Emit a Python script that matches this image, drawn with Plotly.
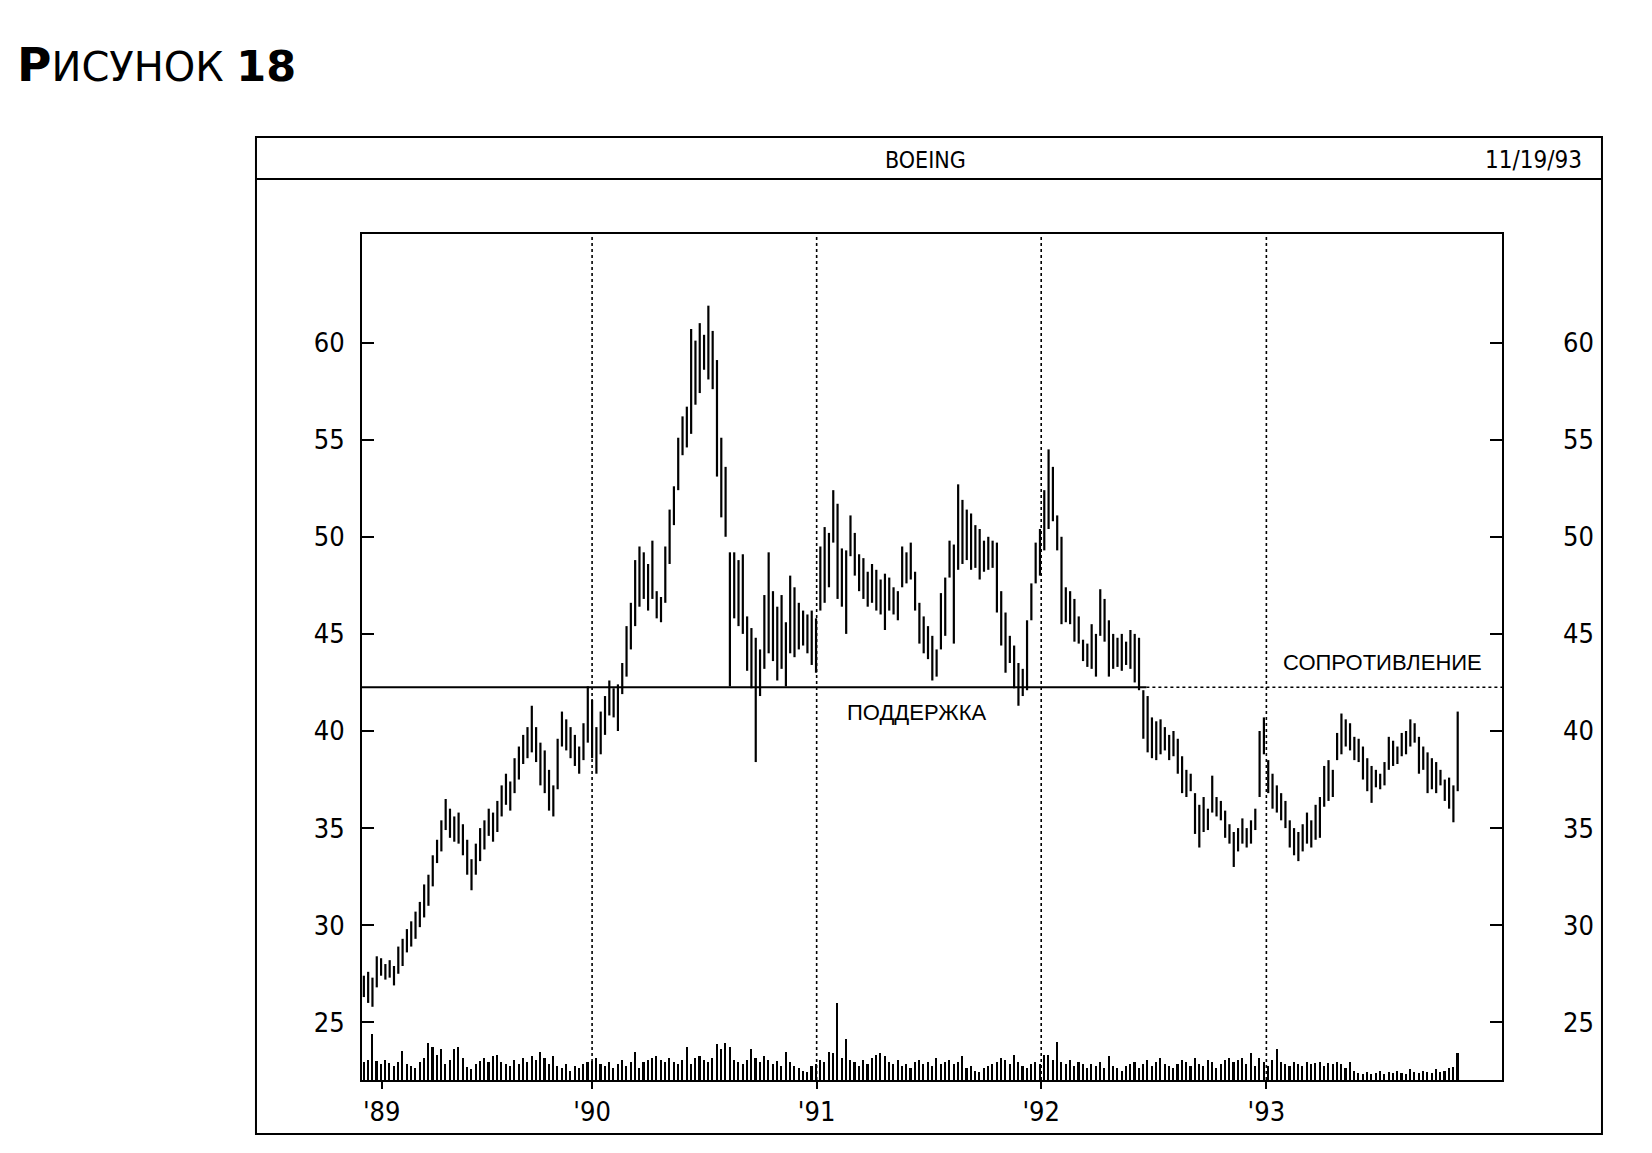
import plotly.graph_objects as go
import pandas as pd

# ---------------- data (weekly bars, week of Monday) ----------------
first_week = "1988-12-26"

highs_1989 = [27.4, 27.6, 27.3, 28.4, 28.3, 28.0, 28.2, 27.9, 28.9, 29.3, 29.8, 30.2, 30.7,
              31.2, 32.1, 32.6, 33.6, 34.4, 35.4, 36.5, 36.0, 35.6, 35.8, 35.2, 34.4, 33.4,
              34.2, 35.0, 35.4, 36.0, 35.8, 36.4, 37.2, 37.8, 37.4, 38.6, 39.2, 39.8, 40.2,
              41.3, 40.2, 39.4, 39.0, 38.0, 37.2, 39.6, 41.0, 40.6, 40.2, 39.8, 39.2, 40.4]
lows_1989 = [26.3, 26.0, 25.8, 26.8, 27.4, 27.2, 27.3, 26.9, 27.5, 27.9, 28.6, 28.9, 29.3,
             29.9, 30.4, 31.0, 32.0, 33.2, 33.8, 34.9, 34.5, 34.3, 34.2, 33.6, 32.6, 31.8,
             32.6, 33.3, 33.9, 34.6, 34.3, 34.8, 35.6, 36.2, 35.9, 36.8, 37.5, 38.3, 38.6,
             38.9, 38.4, 37.2, 36.8, 35.9, 35.6, 37.0, 39.2, 39.0, 38.6, 38.2, 37.8, 38.5]

highs_1990 = [42.3, 41.6, 40.2, 41.0, 41.8, 42.6, 42.2, 42.4, 43.5, 45.4, 46.6, 48.8, 49.5,
              49.2, 48.6, 49.8, 47.2, 46.9, 49.5, 51.4, 52.6, 55.1, 56.2, 56.7, 60.7, 60.1,
              61.0, 60.4, 61.9, 60.6, 59.1, 55.1, 53.6, 49.2, 49.2, 48.8, 49.1, 45.9, 45.3,
              44.8, 44.2, 47.0, 49.2, 47.2, 46.4, 47.0, 45.6, 48.0, 47.4, 46.6, 46.2, 46.0]
lows_1990 = [39.4, 38.6, 37.8, 38.8, 39.8, 40.8, 40.7, 40.0, 41.9, 42.8, 44.2, 45.4, 46.4,
             46.8, 46.2, 46.8, 45.8, 45.6, 46.6, 48.6, 50.6, 52.4, 54.2, 54.6, 55.3, 56.8,
             57.4, 58.6, 58.1, 57.6, 53.1, 51.0, 50.0, 42.3, 45.8, 45.4, 45.0, 43.1, 42.2,
             38.4, 41.8, 43.2, 44.0, 43.6, 42.6, 43.2, 42.3, 44.0, 43.8, 44.2, 44.4, 44.0]

highs_1991 = [46.2, 45.8, 49.5, 50.5, 50.2, 52.4, 51.7, 49.4, 49.3, 51.1, 50.2, 49.1, 48.9,
              48.2, 48.6, 48.3, 47.8, 48.1, 47.9, 47.4, 47.2, 49.5, 49.2, 49.7, 48.2, 46.6,
              45.9, 45.4, 44.9, 44.2, 47.1, 47.9, 49.8, 49.6, 52.7, 51.9, 51.4, 51.2, 50.6,
              50.4, 49.8, 50.0, 49.8, 49.7, 47.2, 46.1, 44.9, 44.4, 43.5, 43.2, 45.7, 47.6]
lows_1991 = [43.4, 43.0, 46.2, 46.6, 47.4, 49.7, 46.8, 46.4, 45.0, 49.0, 48.0, 47.2, 46.8,
             46.4, 46.6, 46.2, 46.0, 45.2, 46.2, 46.0, 45.7, 47.4, 47.6, 47.8, 46.2, 44.5,
             44.0, 43.7, 42.6, 42.8, 44.2, 44.9, 47.9, 44.5, 48.3, 48.6, 48.8, 48.3, 48.4,
             47.8, 48.2, 48.3, 48.4, 46.1, 44.4, 43.0, 43.5, 42.2, 41.3, 41.8, 42.1, 45.7]

highs_1992 = [49.7, 50.4, 52.4, 54.5, 53.6, 51.1, 50.0, 47.4, 47.2, 46.8, 45.9, 44.7, 44.5,
              45.5, 45.0, 47.3, 46.8, 45.7, 45.0, 44.8, 45.0, 44.6, 45.2, 45.0, 44.8, 42.1,
              41.8, 40.7, 40.5, 40.6, 40.2, 39.8, 40.0, 39.6, 38.7, 38.0, 37.8, 36.8, 36.2,
              36.6, 36.0, 37.7, 36.6, 36.4, 35.9, 35.2, 34.8, 35.0, 35.5, 35.0, 35.4, 36.0]
lows_1992 = [47.6, 48.0, 49.3, 50.4, 50.8, 49.3, 45.5, 45.6, 45.5, 44.6, 44.5, 43.6, 43.3,
             43.2, 42.8, 44.9, 44.6, 42.8, 43.2, 43.3, 43.1, 43.4, 43.2, 42.5, 42.1, 39.6,
             38.9, 38.6, 38.5, 38.8, 39.0, 38.5, 38.7, 37.8, 36.8, 36.6, 36.9, 34.7, 34.0,
             34.8, 34.9, 35.8, 35.6, 35.4, 34.5, 34.2, 33.0, 33.8, 34.2, 34.0, 34.2, 34.9]

highs_1993 = [40.0, 40.7, 38.5, 37.8, 37.2, 36.8, 36.4, 35.4, 35.0, 34.8, 35.2, 35.8, 35.4,
              36.2, 36.6, 38.2, 38.5, 38.0, 39.9, 40.9, 40.6, 40.4, 39.7, 39.6, 39.2, 38.6,
              38.2, 38.0, 37.8, 38.4, 39.7, 39.5, 39.2, 39.9, 40.0, 40.6, 40.4, 39.7, 39.2,
              38.9, 38.6, 38.4, 38.0, 37.5, 37.6, 37.2, 41.0]
lows_1993 = [36.6, 38.8, 36.8, 36.0, 35.8, 35.4, 35.0, 34.0, 33.6, 33.3, 33.8, 34.2, 34.0,
             34.4, 34.5, 36.1, 36.4, 36.6, 38.5, 38.8, 39.2, 39.0, 38.5, 38.4, 37.5, 36.9,
             36.3, 37.1, 37.0, 37.2, 38.0, 38.2, 38.3, 38.7, 38.8, 39.2, 39.4, 37.8, 38.0,
             36.8, 37.0, 36.8, 37.2, 36.4, 36.0, 35.3, 36.9]

# weekly volume (relative units)
vol_1989 = [17, 19, 44, 18, 15, 19, 16, 13, 17, 28, 15, 13, 11,
            17, 21, 35, 31, 24, 29, 15, 19, 29, 31, 21, 12, 10,
            15, 18, 21, 17, 23, 24, 17, 15, 13, 19, 15, 21, 17,
            23, 19, 27, 21, 15, 23, 13, 11, 15, 9, 13, 11, 15]
vol_1990 = [17, 18, 21, 15, 13, 17, 11, 15, 19, 13, 17, 27, 11,
            17, 19, 21, 23, 19, 17, 21, 17, 15, 19, 31, 15, 21,
            23, 19, 17, 21, 34, 29, 35, 31, 19, 17, 15, 19, 29,
            21, 17, 23, 19, 15, 18, 13, 27, 17, 13, 11, 9, 8]
vol_1991 = [13, 15, 19, 17, 27, 26, 73, 21, 39, 19, 17, 13, 19,
            15, 21, 24, 26, 23, 17, 15, 19, 13, 15, 11, 17, 19,
            15, 17, 13, 21, 15, 17, 19, 15, 17, 23, 11, 13, 9,
            8, 11, 13, 15, 17, 21, 19, 15, 24, 17, 13, 11, 15]
vol_1992 = [17, 15, 24, 24, 19, 36, 17, 15, 19, 13, 17, 15, 11,
            15, 13, 17, 11, 23, 13, 11, 9, 13, 15, 17, 11, 15,
            19, 13, 17, 21, 15, 13, 11, 15, 19, 17, 13, 21, 15,
            13, 19, 17, 11, 15, 19, 21, 17, 19, 21, 15, 26, 13]
vol_1993 = [21, 17, 13, 19, 29, 17, 15, 13, 17, 15, 13, 17, 15,
            16, 17, 13, 16, 15, 17, 15, 11, 17, 9, 7, 6, 8,
            6, 7, 9, 6, 8, 7, 9, 7, 6, 10, 8, 7, 9,
            8, 7, 10, 8, 9, 11, 12, 26]

year_starts = ["1990-01-01", "1991-01-01", "1992-01-01", "1993-01-01"]
tick_positions = ["1989-01-24", "1990-01-01", "1991-01-01", "1992-01-01", "1993-01-01"]
year_labels = ["'89", "'90", "'91", "'92", "'93"]
price_ticks = [25, 30, 35, 40, 45, 50, 55, 60]
support_level = 42.25
support_break = "1992-06-20"
x_range = ["1988-12-23", "1994-01-19"]
y_range = [22.03, 65.59]
vol_range = [0, 803]

# ---------------- build ----------------
highs = highs_1989 + highs_1990 + highs_1991 + highs_1992 + highs_1993
lows = lows_1989 + lows_1990 + lows_1991 + lows_1992 + lows_1993
vols = vol_1989 + vol_1990 + vol_1991 + vol_1992 + vol_1993
dates = pd.date_range(first_week, periods=len(highs), freq="7D")

bx, by = [], []
for d, h, l in zip(dates, highs, lows):
    bx += [d, d, None]
    by += [l, h, None]

NARROW = "DejaVu Sans Condensed, Liberation Sans Narrow, Arial Narrow, sans-serif"
SANS = "Liberation Sans, Arial, sans-serif"

fig = go.Figure()
fig.add_trace(go.Bar(x=dates, y=vols, yaxis="y3", marker=dict(color="black", line=dict(width=0)),
                     width=2.6 * 86400000, showlegend=False, hoverinfo="skip"))
fig.add_trace(go.Scatter(x=bx, y=by, mode="lines", line=dict(color="black", width=2.2),
                         showlegend=False, hoverinfo="skip"))
fig.add_trace(go.Scatter(x=[x_range[0], support_break], y=[support_level, support_level], yaxis="y2",
                         mode="lines", line=dict(color="black", width=2), showlegend=False, hoverinfo="skip"))
fig.add_trace(go.Scatter(x=[support_break, x_range[1]], y=[support_level, support_level], yaxis="y2",
                         mode="lines", line=dict(color="black", width=1.6, dash="dot"),
                         showlegend=False, hoverinfo="skip"))

shapes = []
for ys in year_starts:
    shapes.append(dict(type="line", xref="x", yref="y domain", x0=ys, x1=ys, y0=0, y1=1,
                       line=dict(color="black", width=1.6, dash="dot")))
# outer frame and header separator
shapes.append(dict(type="rect", xref="paper", yref="paper", x0=-0.0930, x1=1.0877, y0=-0.0638, y1=1.1147,
                   line=dict(color="black", width=2)))
shapes.append(dict(type="line", xref="paper", yref="paper", x0=-0.0930, x1=1.0877, y0=1.0650, y1=1.0650,
                   line=dict(color="black", width=2)))

annotations = [
    dict(text="<span style='font-size:47px'><b>Р</b></span>ИСУНОК <span style='font-size:43px'><b>18</b></span>",
         xref="paper", yref="paper",
         x=-0.3040, y=1.2000, xanchor="left", yanchor="middle", showarrow=False,
         font=dict(family="DejaVu Sans, Noto Sans, sans-serif", size=40, color="black")),
    dict(text="BOEING", xref="paper", yref="paper", x=0.4939, y=1.0875, xanchor="center", yanchor="middle",
         showarrow=False, font=dict(family=NARROW, size=23, color="black")),
    dict(text="11/19/93", xref="paper", yref="paper", x=1.028, y=1.0875, xanchor="center", yanchor="middle",
         showarrow=False, font=dict(family=NARROW, size=24, color="black")),
    dict(text="ПОДДЕРЖКА", xref="x", yref="y", x="1991-06-13", y=40.93, xanchor="center", yanchor="middle",
         showarrow=False, font=dict(family=SANS, size=22, color="black")),
    dict(text="СОПРОТИВЛЕНИЕ", xref="x", yref="y", x="1993-07-08", y=43.55, xanchor="center", yanchor="middle",
         showarrow=False, font=dict(family=SANS, size=22, color="black")),
]

fig.update_layout(
    width=1636, height=1137, autosize=False,
    margin=dict(l=354, r=142, t=226, b=65, pad=0),
    paper_bgcolor="white", plot_bgcolor="white",
    bargap=0, hovermode=False,
    shapes=shapes, annotations=annotations,
    xaxis=dict(type="date", range=x_range, tickvals=tick_positions, ticktext=year_labels,
               ticks="outside", ticklen=7, tickwidth=1.5, tickcolor="black",
               showline=True, linewidth=2, linecolor="black", mirror=True,
               showgrid=False, zeroline=False, ticklabelstandoff=0,
               tickfont=dict(family=NARROW, size=27, color="black")),
    yaxis=dict(range=y_range, tickvals=price_ticks, ticks="inside", ticklen=12, tickwidth=2,
               tickcolor="black", showline=True, linewidth=2, linecolor="black", mirror="allticks",
               showgrid=False, zeroline=False, ticklabelstandoff=10,
               tickfont=dict(family=NARROW, size=27, color="black")),
    yaxis2=dict(range=y_range, overlaying="y", side="right", tickvals=price_ticks, ticks="",
                showline=False, showgrid=False, zeroline=False, ticklabelstandoff=60,
                tickfont=dict(family=NARROW, size=27, color="black")),
    yaxis3=dict(range=vol_range, overlaying="y", visible=False),
)

fig.write_html("out.html")
